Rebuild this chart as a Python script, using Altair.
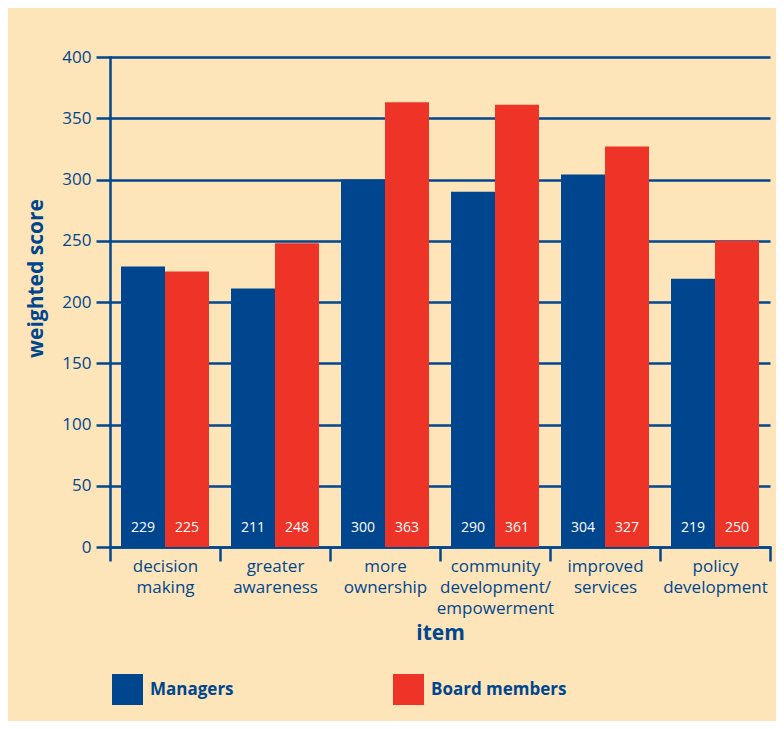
import altair as alt
import pandas as pd

items = ["decision|making", "greater|awareness", "more|ownership",
         "community|development/|empowerment", "improved|services", "policy|development"]
groups = ["Managers", "Board members"]
managers = [229, 211, 300, 290, 304, 219]
board = [225, 248, 363, 361, 327, 250]

rows = []
for i, it in enumerate(items):
    rows.append({"item": it, "group": groups[0], "score": managers[i]})
    rows.append({"item": it, "group": groups[1], "score": board[i]})
df = pd.DataFrame(rows)

BLUE = "#00468E"
RED = "#EE3426"
BG = "#FDE5B9"
FONT = "Open Sans"

x = alt.X("item:N", sort=items, title="item",
          scale=alt.Scale(paddingInner=0, paddingOuter=0),
          axis=alt.Axis(labelExpr="split(datum.label, '|')", labelAngle=0,
                        tickBand="extent", tickSize=14, tickWidth=2.5,
                        tickColor=BLUE, domainColor=BLUE, domainWidth=2.5,
                        labelPadding=-3, labelLineHeight=21, labelFontSize=17,
                        labelColor=BLUE, labelFont=FONT,
                        titleFont=FONT, titleFontSize=21, titleFontWeight="bold",
                        titleColor=BLUE, titleY=92, titleBaseline="alphabetic"))
xo = alt.XOffset("group:N", sort=groups, scale=alt.Scale(paddingOuter=0.25, paddingInner=0))
color = alt.Color("group:N", sort=groups,
                  scale=alt.Scale(domain=groups, range=[BLUE, RED]),
                  legend=alt.Legend(title=None, orient="none", direction="horizontal",
                                    legendX=2, legendY=617, symbolType="square",
                                    symbolSize=961, symbolStrokeWidth=0,
                                    labelFont=FONT, labelFontSize=17, labelFontWeight="bold",
                                    labelColor=BLUE, labelOffset=7, columnPadding=107,
                                    gridAlign="all", padding=0))

bars = alt.Chart(df).mark_bar(opacity=1).encode(
    x=x, xOffset=xo,
    y=alt.Y("score:Q", title="weighted score",
            scale=alt.Scale(domain=[0, 400], nice=False),
            axis=alt.Axis(values=list(range(0, 401, 50)), tickSize=14, tickWidth=2.5,
                          tickColor=BLUE, domainColor=BLUE, domainWidth=2.5,
                          grid=True, gridColor=BLUE, gridWidth=2.5,
                          labelFont=FONT, labelFontSize=17, labelColor=BLUE, labelPadding=5,
                          titleFont=FONT, titleFontSize=21, titleFontWeight="bold",
                          titleColor=BLUE, titleX=-64, titleY=221)),
    color=color,
)

labels = alt.Chart(df).mark_text(color="white", font=FONT, fontSize=14, dy=-19,
                                 baseline="middle").encode(
    x=alt.X("item:N", sort=items), xOffset=xo,
    y=alt.datum(0),
    text=alt.Text("score:Q"),
)

chart = alt.layer(bars, labels).properties(
    width=660, height=490,
    background=BG,
    autosize=alt.AutoSizeParams(type="none"),
    padding={"left": 102, "top": 49, "right": 6, "bottom": 174},
).configure_view(stroke=None).configure_axis(domainCap="square")

chart.save("out.html", embed_options={"renderer": "svg", "actions": False})
